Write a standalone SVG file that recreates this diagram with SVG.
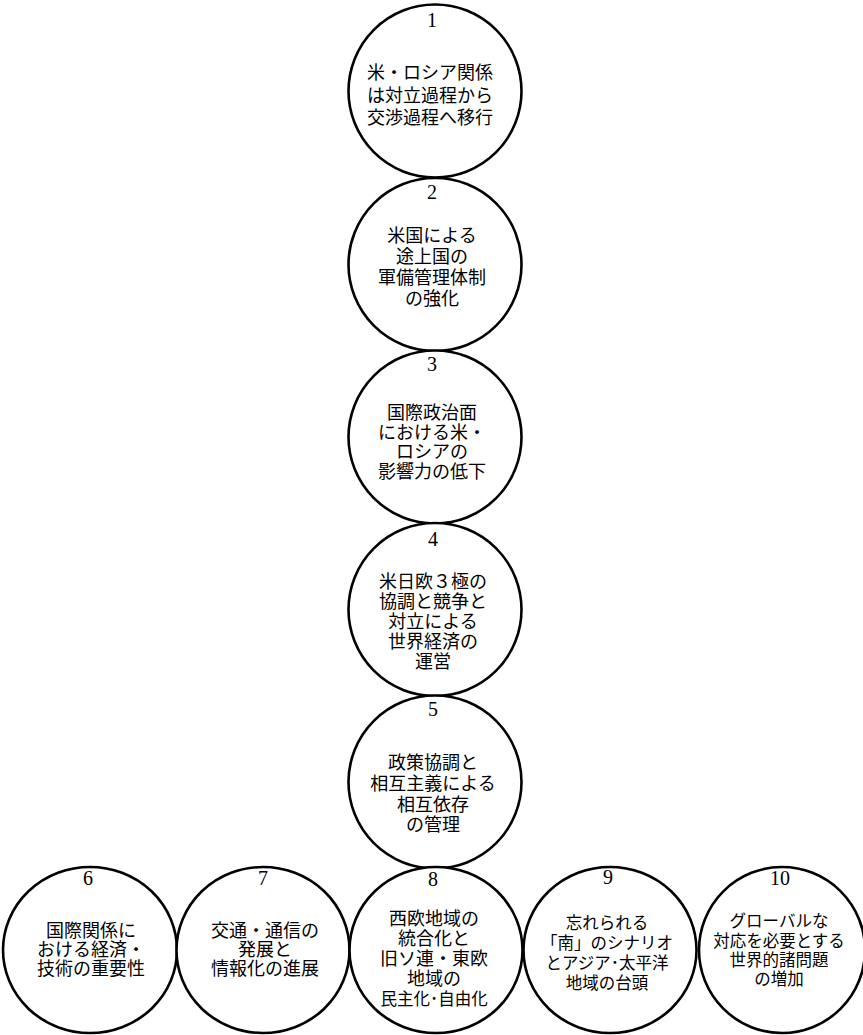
<svg xmlns="http://www.w3.org/2000/svg" width="863" height="1035" viewBox="0 0 863 1035">
<style>
.c{fill:#fff;stroke:#000;stroke-width:2.6}
.n{font-family:"Liberation Serif",serif;font-size:20px;text-anchor:middle;fill:#000}
.t{font-family:"Noto Sans CJK JP",sans-serif;font-size:18px;text-anchor:middle;fill:#000}
.s{font-size:16.5px}
</style>
<rect width="863" height="1035" fill="#fff"/>
<g id="connectors"></g>
<g id="node1">
<circle class="c" cx="435" cy="91" r="86.5"/>
<text class="n" x="432" y="27">1</text>
<text class="t" x="430" y="79">米・ロシア関係</text>
<text class="t" x="430" y="102">は対立過程から</text>
<text class="t" x="430" y="124">交渉過程へ移行</text>
</g>
<g id="node2">
<circle class="c" cx="435" cy="264.5" r="86.5"/>
<text class="n" x="432" y="199">2</text>
<text class="t" x="432" y="242">米国による</text>
<text class="t" x="432" y="263">途上国の</text>
<text class="t" x="432" y="284">軍備管理体制</text>
<text class="t" x="432" y="305">の強化</text>
</g>
<g id="node3">
<circle class="c" cx="435" cy="437" r="86.5"/>
<text class="n" x="432" y="371">3</text>
<text class="t" x="432" y="419">国際政治面</text>
<text class="t" x="432" y="438.5">における米・</text>
<text class="t" x="432" y="458">ロシアの</text>
<text class="t" x="432" y="477.5">影響力の低下</text>
</g>
<g id="node4">
<circle class="c" cx="435" cy="609.5" r="86.5"/>
<text class="n" x="433" y="546">4</text>
<text class="t" x="433" y="588">米日欧３極の</text>
<text class="t" x="433" y="608">協調と競争と</text>
<text class="t" x="433" y="628">対立による</text>
<text class="t" x="433" y="648">世界経済の</text>
<text class="t" x="433" y="668">運営</text>
</g>
<g id="node5">
<circle class="c" cx="435" cy="782" r="86.5"/>
<text class="n" x="433" y="716">5</text>
<text class="t" x="433" y="769">政策協調と</text>
<text class="t" x="433" y="790">相互主義による</text>
<text class="t" x="433" y="811">相互依存</text>
<text class="t" x="433" y="831">の管理</text>
</g>
<g id="node6">
<ellipse class="c" cx="90" cy="950" rx="87" ry="83"/>
<text class="n" x="88" y="885">6</text>
<text class="t" x="91" y="937">国際関係に</text>
<text class="t" x="91" y="956">おける経済・</text>
<text class="t" x="91" y="975">技術の重要性</text>
</g>
<g id="node7">
<ellipse class="c" cx="263" cy="950" rx="86.5" ry="83"/>
<text class="n" x="263" y="885">7</text>
<text class="t" x="265" y="937">交通・通信の</text>
<text class="t" x="265" y="956">発展と</text>
<text class="t" x="265" y="975">情報化の進展</text>
</g>
<g id="node8">
<ellipse class="c" cx="436" cy="950" rx="86.5" ry="83"/>
<text class="n" x="433" y="886">8</text>
<text class="t" x="434" y="925">西欧地域の</text>
<text class="t" x="434" y="945">統合化と</text>
<text class="t" x="434" y="965">旧ソ連・東欧</text>
<text class="t" x="434" y="985">地域の</text>
<text class="t s" x="434" y="1005">民主化･自由化</text>
</g>
<g id="node9">
<ellipse class="c" cx="610" cy="950" rx="86.5" ry="83"/>
<text class="n" x="608" y="884">9</text>
<text class="t s" x="607" y="929">忘れられる</text>
<text class="t s" x="607" y="949">「南」のシナリオ</text>
<text class="t s" x="607" y="969">とアジア･太平洋</text>
<text class="t s" x="607" y="989">地域の台頭</text>
</g>
<g id="node10">
<ellipse class="c" cx="782" cy="950" rx="83" ry="83"/>
<text class="n" x="780" y="885">10</text>
<text class="t s" x="779" y="927">グローバルな</text>
<text class="t s" x="779" y="947">対応を必要とする</text>
<text class="t s" x="779" y="966">世界的諸問題</text>
<text class="t s" x="779" y="985">の増加</text>
</g>
</svg>
